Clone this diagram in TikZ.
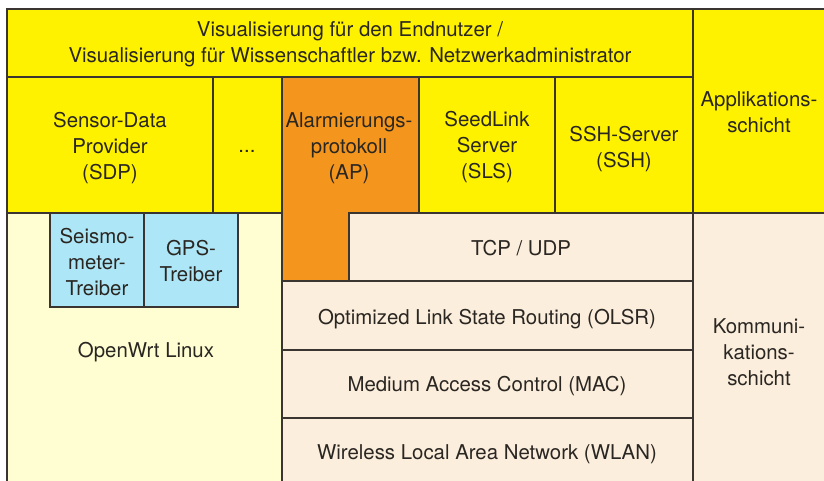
\documentclass[tikz,border=0pt]{standalone}
\usepackage{fontspec}
\setmainfont{TeX Gyre Heros}
\definecolor{ylw}{HTML}{FFF200}
\definecolor{org}{HTML}{F4961E}
\definecolor{lylw}{HTML}{FFFDD2}
\definecolor{peach}{HTML}{FBEEDC}
\definecolor{lblue}{HTML}{ADE6F7}
\definecolor{ln}{HTML}{3A3530}
\definecolor{txt}{HTML}{2A2622}
\tikzset{
  box/.style={draw=ln, line width=1.2pt, rectangle, inner sep=0pt, outer sep=0pt},
  lbl/.style={text=txt, align=center, font=\fontsize{20.4}{26}\selectfont, inner sep=0pt},
}
\begin{document}
\begin{tikzpicture}[x=1pt,y=-1pt]
\useasboundingbox (0,0) rectangle (824,480);
% lower background areas
\draw[box, fill=lylw] (7,213) rectangle (282,490);
\draw[box, fill=peach] (693,213) rectangle (830,490);
\draw[box, fill=peach] (349,213) rectangle (693,281);
\draw[box, fill=peach] (282,281) rectangle (693,350);
\draw[box, fill=peach] (282,350) rectangle (693,418);
\draw[box, fill=peach] (282,418) rectangle (693,490);
% drivers
\draw[box, fill=lblue] (50,213) rectangle (144,307);
\draw[box, fill=lblue] (144,213) rectangle (238,307);
% application layer
\draw[box, fill=ylw] (7,9) rectangle (693,77);
\draw[box, fill=ylw] (693,9) rectangle (830,213);
\draw[box, fill=ylw] (7,77) rectangle (213,213);
\draw[box, fill=ylw] (213,77) rectangle (282,213);
\draw[box, fill=org] (282,77) -- (419,77) -- (419,213) -- (349,213) -- (349,281) -- (282,281) -- cycle;
\draw[box, fill=ylw] (419,77) rectangle (555,213);
\draw[box, fill=ylw] (555,77) rectangle (693,213);
% labels
\node[lbl] (vis) at (350,44) {Visualisierung für den Endnutzer /\\Visualisierung für Wissenschaftler bzw. Netzwerkadministrator};
\node[lbl] (app) at (759,112) {Applikations-\\schicht};
\node[lbl] (sdp) at (110,148) {Sensor-Data\\Provider\\(SDP)};
\node[lbl] (dots) at (247,151) {...};
\node[lbl] (ap) at (349,148) {Alarmierungs-\\protokoll\\(AP)};
\node[lbl] (sls) at (487,147) {SeedLink\\Server\\(SLS)};
\node[lbl] (ssh) at (624,149) {SSH-Server\\(SSH)};
\node[lbl] (seis) at (97,262) {Seismo-\\meter-\\Treiber};
\node[lbl] (gps) at (191,261) {GPS-\\Treiber};
\node[lbl] (owrt) at (146,352) {OpenWrt Linux};
\node[lbl] (tcp) at (521,248) {TCP / UDP};
\node[lbl] (olsr) at (487,319) {Optimized Link State Routing (OLSR)};
\node[lbl] (mac) at (487,386) {Medium Access Control (MAC)};
\node[lbl] (wlan) at (487,454) {Wireless Local Area Network (WLAN)};
\node[lbl] (komm) at (759,352) {Kommuni-\\kations-\\schicht};
\end{tikzpicture}
\end{document}
